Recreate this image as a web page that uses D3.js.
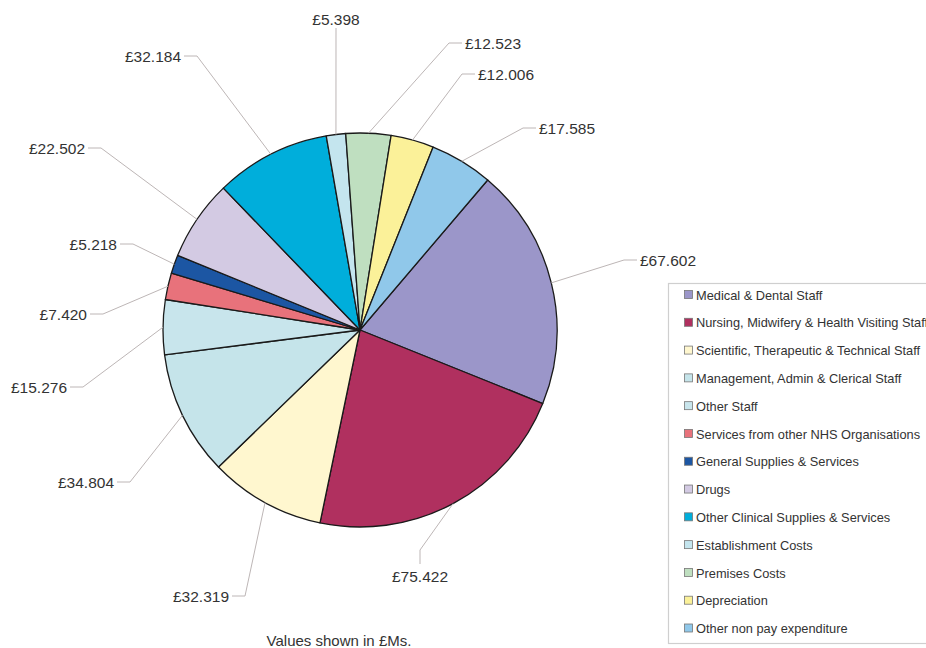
<!DOCTYPE html>
<html>
<head>
<meta charset="utf-8">
<script src="https://cdn.jsdelivr.net/npm/d3@7"></script>
<style>
  body { margin: 0; background: #fff; }
  svg { display: block; font-family: "Liberation Sans", Arial, sans-serif; }
</style>
</head>
<body>
<div id="chart"></div>
<script>
// categories, values (£M) and colours, in pie / legend order
var categories = [
  "Medical & Dental Staff",
  "Nursing, Midwifery & Health Visiting Staff",
  "Scientific, Therapeutic & Technical Staff",
  "Management, Admin & Clerical Staff",
  "Other Staff",
  "Services from other NHS Organisations",
  "General Supplies & Services",
  "Drugs",
  "Other Clinical Supplies & Services",
  "Establishment Costs",
  "Premises Costs",
  "Depreciation",
  "Other non pay expenditure"
];
var values = [67.602, 75.422, 32.319, 34.804, 15.276, 7.420, 5.218, 22.502, 32.184, 5.398, 12.523, 12.006, 17.585];
var colours = ["#9b96c9", "#b0305f", "#fff7cf", "#c5e4ea", "#c8e5ec", "#e8727b", "#1c56a3",
               "#d3cae3", "#00aedb", "#c4e5ee", "#bfdfc0", "#fbf199", "#90c8ea"];
var footnote = "Values shown in £Ms.";

// hand placed label spots (like the original, labels were dragged around)
// [x, y, anchor]
var labelSpots = [
  [640, 260, "start"], [420, 576, "middle"], [229, 596, "end"], [114, 482, "end"],
  [67, 387, "end"], [87, 314, "end"], [117, 244, "end"], [85, 148, "end"],
  [181, 56, "end"], [336, 19, "middle"], [465, 43, "start"], [478, 74, "start"],
  [539, 128, "start"]
];

var W = 926, H = 648;
var cx = 360, cy = 330, radius = 197;
var start = 40.4 * Math.PI / 180;

var svg = d3.select("#chart")
  .append("svg")
    .attr("width", W)
    .attr("height", H);

var pie = d3.pie()
  .sort(null)
  .value(function(d) { return d; })
  .startAngle(start)
  .endAngle(start + 2 * Math.PI);

var arcs = pie(values);

var arc = d3.arc().innerRadius(0).outerRadius(radius);
var edge = d3.arc().innerRadius(radius).outerRadius(radius);

var g = svg.append("g")
  .attr("transform", "translate(" + cx + "," + cy + ")");

g.selectAll("path.slice")
  .data(arcs)
  .enter().append("path")
  .attr("class", "slice")
  .attr("d", arc)
  .attr("fill", function(d, i) { return colours[i]; })
  .attr("stroke", "#1a1a1a")
  .attr("stroke-width", 1.3)
  .attr("stroke-linejoin", "round");

// leader lines
var leaders = svg.append("g");
arcs.forEach(function(d, i) {
  var p = edge.centroid(d);
  var px = cx + p[0], py = cy + p[1];
  var s = labelSpots[i];
  var pts;
  if (s[2] == "start") {
    pts = [[s[0] - 3, s[1]], [s[0] - 16, s[1]], [px, py]];
  } else if (s[2] == "end") {
    pts = [[s[0] + 3, s[1]], [s[0] + 16, s[1]], [px, py]];
  } else if (s[1] < cy) {
    pts = [[s[0], s[1] + 9], [px, py]];
  } else {
    pts = [[s[0], s[1] - 12], [s[0], s[1] - 26], [px, py]];
  }
  leaders.append("path")
    .attr("d", d3.line()(pts))
    .attr("fill", "none")
    .attr("stroke", "#bdb6b6")
    .attr("stroke-width", 1);
});

// value labels
svg.append("g").selectAll("text")
  .data(arcs)
  .enter().append("text")
  .attr("x", function(d, i) { return labelSpots[i][0]; })
  .attr("y", function(d, i) { return labelSpots[i][1]; })
  .attr("dy", "0.36em")
  .attr("text-anchor", function(d, i) { return labelSpots[i][2]; })
  .style("font-size", "15.5px")
  .style("fill", "#333")
  .text(function(d) { return "£" + d3.format(".3f")(d.data); });

// footnote
svg.append("text")
  .attr("x", 339)
  .attr("y", 641)
  .attr("dy", "0.36em")
  .attr("text-anchor", "middle")
  .style("font-size", "15px")
  .style("fill", "#333")
  .text(footnote);

// legend
var legend = svg.append("g");
legend.append("rect")
  .attr("x", 668.5)
  .attr("y", 283.5)
  .attr("width", 300)
  .attr("height", 360)
  .attr("fill", "#fff")
  .attr("stroke", "#cfcfcf")
  .attr("stroke-width", 1.2);

var ly = d3.scalePoint()
  .domain(categories)
  .range([295, 628.5]);

var item = legend.selectAll("g.item")
  .data(categories)
  .enter().append("g")
  .attr("class", "item")
  .attr("transform", function(d) { return "translate(0," + ly(d) + ")"; });

item.append("rect")
  .attr("x", 684.5)
  .attr("y", -4.5)
  .attr("width", 8)
  .attr("height", 8)
  .attr("fill", function(d, i) { return colours[i]; })
  .attr("stroke", "#777")
  .attr("stroke-width", 0.8);

item.append("text")
  .attr("x", 696)
  .attr("dy", "0.36em")
  .style("font-size", "12.8px")
  .style("fill", "#333")
  .text(function(d) { return d; });
</script>
</body>
</html>
